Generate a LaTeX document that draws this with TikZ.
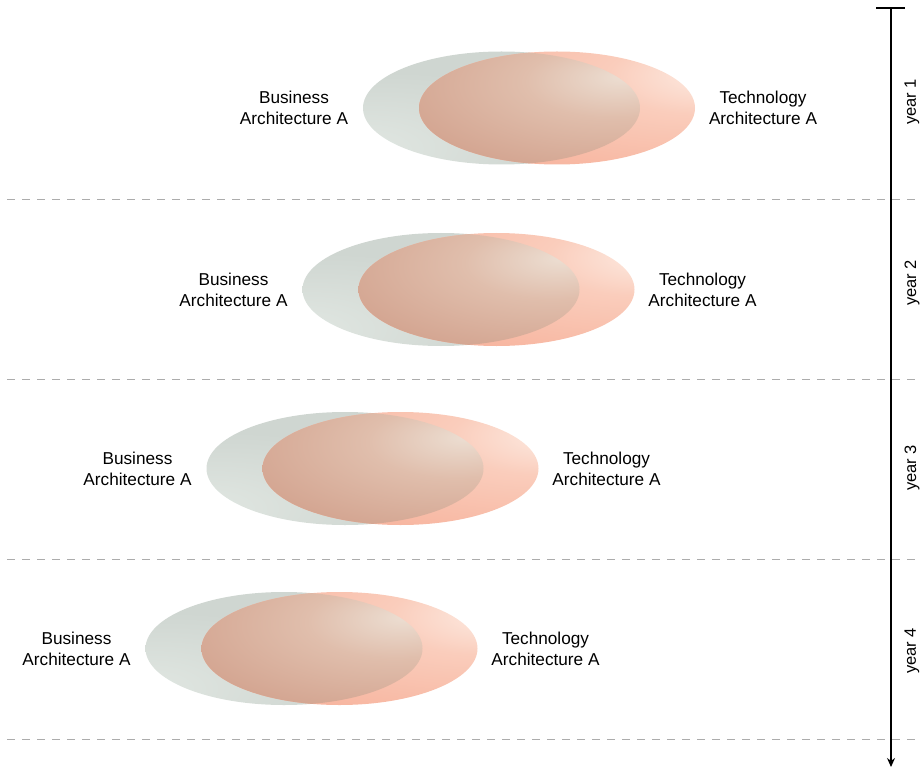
\documentclass[tikz,border=0pt]{standalone}
\usepackage{fontspec}
\setmainfont{Liberation Sans}
\usetikzlibrary{arrows.meta}
\definecolor{grhi}{RGB}{226,232,227}
\definecolor{grout}{RGB}{207,214,209}
\definecolor{salhi}{RGB}{253,238,230}
\definecolor{salmid}{RGB}{250,205,188}
\definecolor{salout}{RGB}{247,180,158}
\definecolor{ovhi}{RGB}{236,222,210}
\definecolor{ovmid}{RGB}{224,190,172}
\definecolor{ovout}{RGB}{211,164,144}
\definecolor{dashgray}{RGB}{172,172,172}
\pgfdeclareradialshading{graysh}{\pgfpoint{-28bp}{-20bp}}{color(0bp)=(grhi); color(30bp)=(grout); color(100bp)=(grout)}
\pgfdeclareradialshading{salsh}{\pgfpoint{30bp}{16bp}}{color(0bp)=(salhi); color(16bp)=(salmid); color(42bp)=(salout); color(100bp)=(salout)}
\pgfdeclareradialshading{ovsh}{\pgfpoint{12bp}{14bp}}{color(0bp)=(ovhi); color(16bp)=(ovmid); color(38bp)=(ovout); color(100bp)=(ovout)}
\tikzset{
  lbl/.style={font=\fontsize{17.2}{21}\selectfont, align=center, inner sep=0pt},
  yr/.style={font=\fontsize{16.5}{19}\selectfont, rotate=90, inner sep=0pt},
  sep/.style={draw=dashgray, line width=1pt, dash pattern=on 8pt off 7pt},
  axis/.style={line width=1.2pt, black},
}
\newcommand{\venrow}[3]{% #1 gray center x, #2 center y, #3 row id
  \coordinate (g#3) at (#1,#2);
  \coordinate (s#3) at (#1+55.5,#2);
  \shade[shading=graysh] (g#3) ellipse [x radius=138.5, y radius=56.5];
  \shade[shading=salsh] (s#3) ellipse [x radius=138, y radius=56.5];
  \begin{scope}
    \clip (g#3) ellipse [x radius=138.5, y radius=56.5];
    \shade[shading=ovsh] (s#3) ellipse [x radius=138, y radius=56.5];
  \end{scope}
  \node[lbl] (b#3) at (#1-207.5,#2) {Business\\Architecture A};
  \node[lbl] (t#3) at (#1+261.5,#2) {Technology\\Architecture A};
}
\begin{document}
\begin{tikzpicture}[x=1pt,y=-1pt]
\useasboundingbox (0,0) rectangle (920,767);
\venrow{501.5}{108}{1}
\venrow{441}{289.5}{2}
\venrow{345}{468.5}{3}
\venrow{284}{648.5}{4}
% separators
\foreach \yy/\n in {200/1,379/2,559/3,739/4}{
  \coordinate (dl\n) at (7,\yy);
  \coordinate (dr\n) at (920,\yy);
  \draw[sep] (dl\n) -- (dr\n);
}
% axis
\coordinate (atop) at (891,8);
\coordinate (abot) at (891,767);
\coordinate (tl) at (876,8);
\coordinate (tr) at (905,8);
\draw[axis] (tl) -- (tr);
\draw[axis, -{Stealth[length=9pt,width=8pt]}] (atop) -- (abot);
\node[yr] (y1) at (912,102) {year 1};
\node[yr] (y2) at (912,283) {year 2};
\node[yr] (y3) at (912,468) {year 3};
\node[yr] (y4) at (912,651) {year 4};
\end{tikzpicture}
\end{document}
